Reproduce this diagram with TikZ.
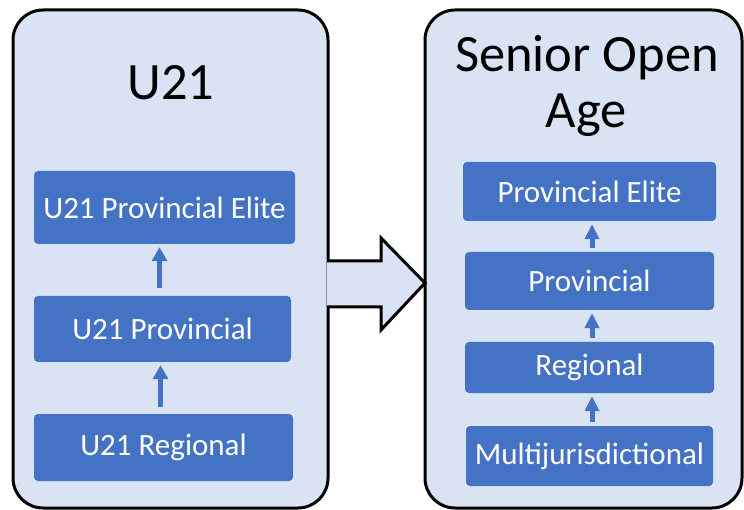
\documentclass[tikz,border=0pt]{standalone}
\usepackage{fontspec}
\setmainfont{Carlito}
\usetikzlibrary{arrows.meta}
\definecolor{panelfill}{HTML}{DAE3F3}
\definecolor{boxfill}{HTML}{4472C4}
\tikzset{
  panel/.style={draw=black, line width=3pt, fill=panelfill, rounded corners=30pt},
  level/.style={fill=boxfill, rounded corners=4pt, text=white, font=\fontsize{31}{35}\selectfont, inner sep=0pt},
  title/.style={font=\fontsize{52.5}{58}\selectfont, text=black, inner sep=0pt},
  uparrow/.style={draw=boxfill, line width=5pt, -{Triangle[width=15pt,length=14pt]}},
  smallup/.style={draw=boxfill, line width=5pt, -{Triangle[width=14pt,length=15pt]}},
  bigarrow/.style={draw=black, line width=3pt, fill=panelfill, line join=miter}
}
\begin{document}
\begin{tikzpicture}[x=1pt,y=-1pt]
\useasboundingbox (0,0) rectangle (744,510);
\fill[white] (0,0) rectangle (744,510);
% panels
\draw[panel] (13,10) rectangle (328,508);
\draw[panel] (425,10) rectangle (742,508);
% big block arrow
\fill[panelfill] (327,261) -- (381,261) -- (381,238) -- (425,283) -- (381,330) -- (381,307) -- (327,307) -- cycle;
\draw[bigarrow] (327,261) -- (381,261) -- (381,238) -- (425,283) -- (381,330) -- (381,307) -- (327,307);
% titles
\node[title, anchor=base] (t1) at (171,100) {U21};
\node[title, anchor=base] (t2a) at (587,72) {Senior Open};
\node[title, anchor=base] (t2b) at (586,128) {Age};
% left boxes
\node[level, minimum width=261pt, minimum height=73pt] (le) at (164.5,207.5) {U21 Provincial Elite};
\node[level, minimum width=257pt, minimum height=66pt] (lp) at (162.5,329) {U21 Provincial};
\node[level, minimum width=259pt, minimum height=67pt] (lr) at (163.5,447.5) {U21 Regional};
% right boxes
\node[level, minimum width=253pt, minimum height=59pt] (re) at (589.5,191.5) {Provincial Elite};
\node[level, minimum width=249pt, minimum height=58pt] (rp) at (589.5,281) {Provincial};
\node[level, minimum width=249pt, minimum height=51pt] (rr) at (589.5,367.5) {Regional};
\node[level, minimum width=247pt, minimum height=60pt] (rm) at (589.5,456) {Multijurisdictional};
% arrows
\draw[uparrow, shorten <=8pt, shorten >=3pt] ([xshift=-3pt]lp.north) -- ([xshift=-3pt]lp.north |- le.south);
\draw[uparrow, shorten <=7pt, shorten >=3pt] ([xshift=-3pt]lr.north) -- ([xshift=-3pt]lr.north |- lp.south);
\draw[smallup, shorten <=4pt, shorten >=3pt] ([xshift=2.5pt]rp.north) -- ([xshift=2.5pt]rp.north |- re.south);
\draw[smallup, shorten <=4pt, shorten >=3pt] ([xshift=2.5pt]rr.north) -- ([xshift=2.5pt]rr.north |- rp.south);
\draw[smallup, shorten <=4pt, shorten >=3pt] ([xshift=2.5pt]rm.north) -- ([xshift=2.5pt]rm.north |- rr.south);
\end{tikzpicture}
\end{document}
